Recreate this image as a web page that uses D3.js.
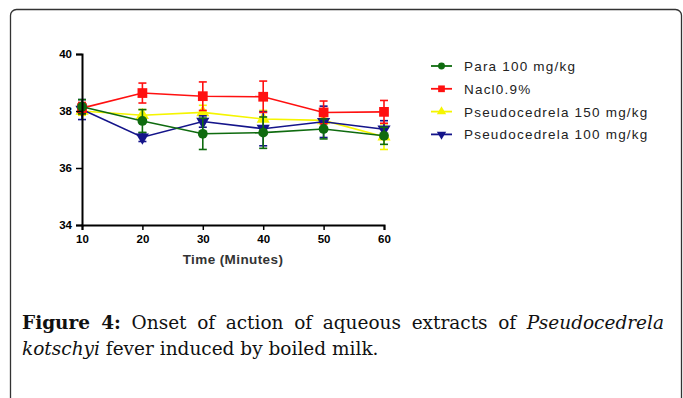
<!DOCTYPE html>
<html>
<head>
<meta charset="utf-8">
<script src="https://cdn.jsdelivr.net/npm/d3@7"></script>
<style>
  body { margin: 0; background: #fff; }
  svg { display: block; }
</style>
</head>
<body>
<script>
// size of the page and the plot area
var w = 683;
var h = 398;
var plot = {left: 82, right: 384, top: 54, bottom: 225};

// chart data
var times = [10, 20, 30, 40, 50, 60];
var yTicks = [34, 36, 38, 40];
var seriesNames = ["Para 100 mg/kg", "Nacl0.9%", "Pseudocedrela 150 mg/kg", "Pseudocedrela 100 mg/kg"];
var para100 = [38.15, 37.65, 37.2, 37.24, 37.37, 37.13];
var para100Err = [0.25, 0.4, 0.55, 0.55, 0.35, 0.3];
var nacl = [38.1, 38.63, 38.52, 38.5, 37.95, 37.97];
var naclErr = [0.2, 0.35, 0.5, 0.55, 0.4, 0.4];
var pseudo150 = [38.0, 37.85, 37.95, 37.72, 37.67, 37.1];
var pseudo150Err = [0.15, 0.2, 0.25, 0.3, 0.3, 0.45];
var pseudo100 = [38.05, 37.08, 37.63, 37.38, 37.62, 37.36];
var pseudo100Err = [0.35, 0.15, 0.2, 0.6, 0.55, 0.3];

// colors and marker symbols for each series
var colors = ["#0f6b0f", "#ff1010", "#f5f500", "#14148a"];
var symbols = [d3.symbolCircle, d3.symbolSquare, d3.symbolTriangle, "down"];

var svg = d3.select("body").append("svg")
  .attr("width", w)
  .attr("height", h);

// frame around the figure
svg.append("rect")
  .attr("x", 10.5)
  .attr("y", 9.5)
  .attr("width", 671)
  .attr("height", 420)
  .attr("rx", 6)
  .attr("fill", "none")
  .attr("stroke", "#333")
  .attr("stroke-width", 1.3);

var xScale = d3.scaleLinear().domain([10, 60]).range([plot.left, plot.right]);
var yScale = d3.scaleLinear().domain([34, 40]).range([plot.bottom, plot.top]);

// marker path for a series
function marker(i, size) {
  if (symbols[i] == "down") {
    return d3.symbol().type(d3.symbolTriangle).size(size)();
  }
  return d3.symbol().type(symbols[i]).size(size)();
}

var allSeries = [
  {values: para100, err: para100Err},
  {values: nacl, err: naclErr},
  {values: pseudo150, err: pseudo150Err},
  {values: pseudo100, err: pseudo100Err}
];

// draw order: yellow, blue, red, green on top
var order = [2, 3, 1, 0];
var line = d3.line()
  .x(function(d) { return xScale(d.t); })
  .y(function(d) { return yScale(d.v); });

order.forEach(function(i) {
  var s = allSeries[i];
  var pts = times.map(function(t, k) { return {t: t, v: s.values[k], e: s.err[k]}; });
  var g = svg.append("g");

  // error bars
  pts.forEach(function(d) {
    var x = xScale(d.t);
    var y1 = yScale(d.v + d.e);
    var y2 = yScale(d.v - d.e);
    g.append("line").attr("x1", x).attr("x2", x).attr("y1", y1).attr("y2", y2)
      .attr("stroke", colors[i]).attr("stroke-width", 1.6);
    [y1, y2].forEach(function(y) {
      g.append("line").attr("x1", x - 4).attr("x2", x + 4).attr("y1", y).attr("y2", y)
        .attr("stroke", colors[i]).attr("stroke-width", 1.6);
    });
  });

  g.append("path")
    .datum(pts)
    .attr("d", line)
    .attr("fill", "none")
    .attr("stroke", colors[i])
    .attr("stroke-width", 1.6);

  g.selectAll("path.pt")
    .data(pts)
    .enter()
    .append("path")
    .attr("class", "pt")
    .attr("d", marker(i, i == 1 ? 95 : 75))
    .attr("transform", function(d) {
      return "translate(" + xScale(d.t) + "," + yScale(d.v) + ")" + (symbols[i] == "down" ? " rotate(180)" : "");
    })
    .attr("fill", colors[i]);
});

// axes
var yAxis = svg.append("g")
  .attr("transform", "translate(" + plot.left + ",0)")
  .call(d3.axisLeft(yScale).tickValues(yTicks).tickFormat(d3.format("d")).tickSize(6).tickPadding(4));

var xAxis = svg.append("g")
  .attr("transform", "translate(0," + plot.bottom + ")")
  .call(d3.axisBottom(xScale).tickValues(times).tickFormat(d3.format("d")).tickSize(5).tickPadding(5));

[xAxis, yAxis].forEach(function(a) {
  a.select(".domain").attr("stroke", "#000").attr("stroke-width", 2);
  a.selectAll(".tick line").attr("stroke", "#000").attr("stroke-width", 1.5);
  a.selectAll("text")
    .attr("fill", "#000")
    .style("font-family", "Liberation Sans, Arial, sans-serif")
    .style("font-weight", "bold")
    .style("font-size", "11.5px");
});

// x axis label
svg.append("text")
  .attr("x", 233)
  .attr("y", 264)
  .attr("text-anchor", "middle")
  .style("font-family", "Liberation Sans, Arial, sans-serif")
  .style("font-weight", "bold")
  .style("font-size", "13.5px")
  .style("letter-spacing", "0.4px")
  .attr("fill", "#333")
  .text("Time (Minutes)");

// legend
var legend = svg.append("g").attr("transform", "translate(431,66)");
seriesNames.forEach(function(name, i) {
  var row = legend.append("g").attr("transform", "translate(0," + (i * 22.8) + ")");
  row.append("line").attr("x1", 0).attr("x2", 21).attr("y1", 0).attr("y2", 0)
    .attr("stroke", colors[i]).attr("stroke-width", 1.8);
  row.append("path")
    .attr("d", marker(i, i == 1 ? 45 : 38))
    .attr("transform", "translate(10.5,0)" + (symbols[i] == "down" ? " rotate(180)" : ""))
    .attr("fill", colors[i]);
  row.append("text")
    .attr("x", 33)
    .attr("y", 5)
    .style("font-family", "Liberation Sans, Arial, sans-serif")
    .style("font-size", "13.5px")
    .style("letter-spacing", "1.2px")
    .attr("fill", "#222")
    .text(name);
});

// caption, first line justified between the margins
var serif = "'DejaVu Serif', serif";
var capSize = "18.5px";
var line1 = svg.append("text")
  .attr("x", 22)
  .attr("y", 329)
  .style("font-family", serif)
  .style("font-size", capSize)
  .attr("fill", "#111");
line1.append("tspan").style("font-weight", "bold").text("Figure 4:");
line1.append("tspan").text(" Onset of action of aqueous extracts of ");
line1.append("tspan").style("font-style", "italic").text("Pseudocedrela");

var used = line1.node().getComputedTextLength();
var gaps = 9;
line1.style("word-spacing", ((664 - 22 - used) / gaps) + "px");

var line2 = svg.append("text")
  .attr("x", 22)
  .attr("y", 355)
  .style("font-family", serif)
  .style("font-size", capSize)
  .attr("fill", "#111");
line2.append("tspan").style("font-style", "italic").text("kotschyi");
line2.append("tspan").text(" fever induced by boiled milk.");
</script>
</body>
</html>
